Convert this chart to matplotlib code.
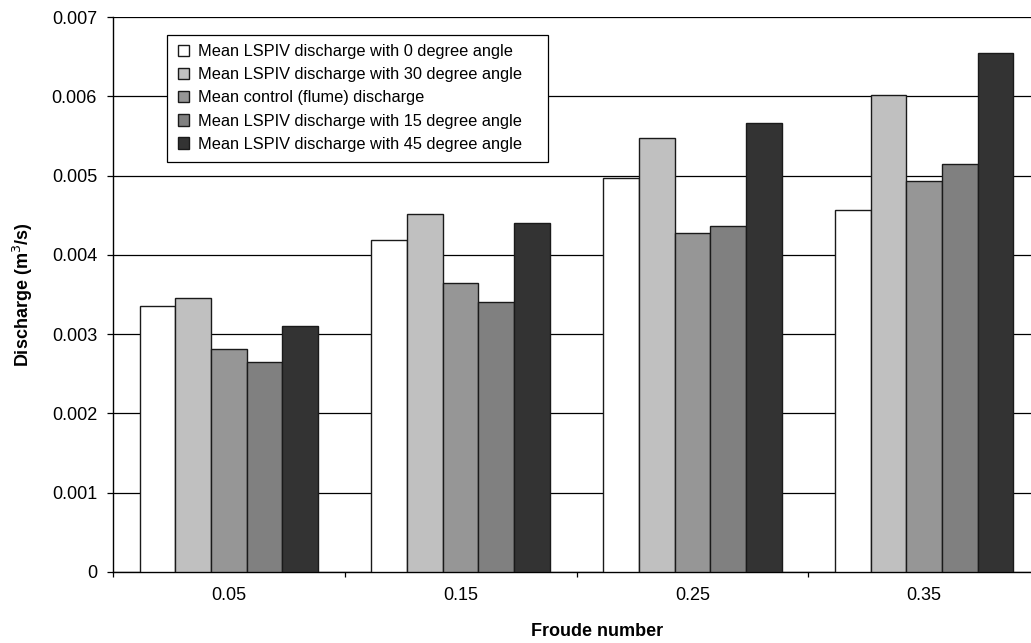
import numpy as np
import matplotlib
matplotlib.use('Agg')
import matplotlib.pyplot as plt
from matplotlib.patches import Rectangle
from matplotlib.ticker import FixedLocator

plt.rcParams['font.family'] = ['Liberation Sans', 'DejaVu Sans']

froude = ['0.05', '0.15', '0.25', '0.35']
series = ['Mean LSPIV discharge with 0 degree angle',
          'Mean LSPIV discharge with 30 degree angle',
          'Mean control (flume) discharge',
          'Mean LSPIV discharge with 15 degree angle',
          'Mean LSPIV discharge with 45 degree angle']
q_0deg = [0.00335, 0.00419, 0.00497, 0.00456]
q_30deg = [0.00346, 0.00452, 0.00548, 0.00602]
q_flume = [0.00281, 0.00365, 0.00428, 0.00493]
q_15deg = [0.00265, 0.00340, 0.00436, 0.00514]
q_45deg = [0.00310, 0.00440, 0.00566, 0.00655]
colors = ['#ffffff', '#c0c0c0', '#969696', '#808080', '#333333']

values = [q_0deg, q_30deg, q_flume, q_15deg, q_45deg]

W, H = 1031, 643
fig = plt.figure(figsize=(W / 100, H / 100), dpi=100)
# plot area runs a bit past the right edge, like the cropped original
ax = fig.add_axes([113 / W, 1 - 572 / H, (1040 - 113) / W, (572 - 17) / H])

x = np.arange(len(froude))
w = 1 / 6.5
for i, (vals, c, lab) in enumerate(zip(values, colors, series)):
    ax.bar(x + (i - 2) * w, vals, width=w, color=c, edgecolor='#1a1a1a',
           linewidth=1.0, label=lab, zorder=3)

ax.set_xlim(-0.5, len(froude) - 0.5)
ax.set_ylim(0, 0.007)
yt = np.arange(0, 0.0071, 0.001)
ax.set_yticks(yt)
ax.set_yticklabels(['0'] + ['%.3f' % v for v in yt[1:]])
ax.grid(axis='y', color='black', linewidth=0.9, zorder=0)
ax.set_axisbelow(True)

ax.set_xticks(x)
ax.set_xticklabels(froude)
ax.xaxis.set_minor_locator(FixedLocator(np.arange(-0.5, len(froude), 1.0)))
ax.tick_params(axis='x', which='major', length=0, pad=11, labelsize=13)
ax.tick_params(axis='x', which='minor', length=3.5, width=0.9, direction='out')
ax.tick_params(axis='y', length=4.5, width=0.9, pad=7, labelsize=13)

for s in ['top', 'right']:
    ax.spines[s].set_visible(False)
for s in ['left', 'bottom']:
    ax.spines[s].set_color('black')
    ax.spines[s].set_linewidth(1.0)

# legend box drawn by hand, Excel leaves extra room on the right
frame = Rectangle((167 / W, 1 - 162 / H), 381 / W, 127 / H, transform=fig.transFigure,
                  facecolor='white', edgecolor='black', linewidth=0.9, zorder=4,
                  clip_on=False)
ax.add_patch(frame)
leg = ax.legend(loc='upper left', bbox_to_anchor=(178 / W, 1 - 44 / H),
                bbox_transform=fig.transFigure,
                fontsize=11.8, frameon=False,
                handlelength=0.7, handleheight=0.7, handletextpad=0.5,
                labelspacing=0.5, borderpad=0, borderaxespad=0)
leg.set_zorder(5)

fig.text(23 / W, 1 - 295 / H, 'Discharge (m$^3$/s)', rotation=90, ha='center',
         va='center', fontsize=13, fontweight='bold')
fig.text(597 / W, 1 - 631 / H, 'Froude number', ha='center', va='center',
         fontsize=13, fontweight='bold')

fig.savefig('out.png', dpi=100)
